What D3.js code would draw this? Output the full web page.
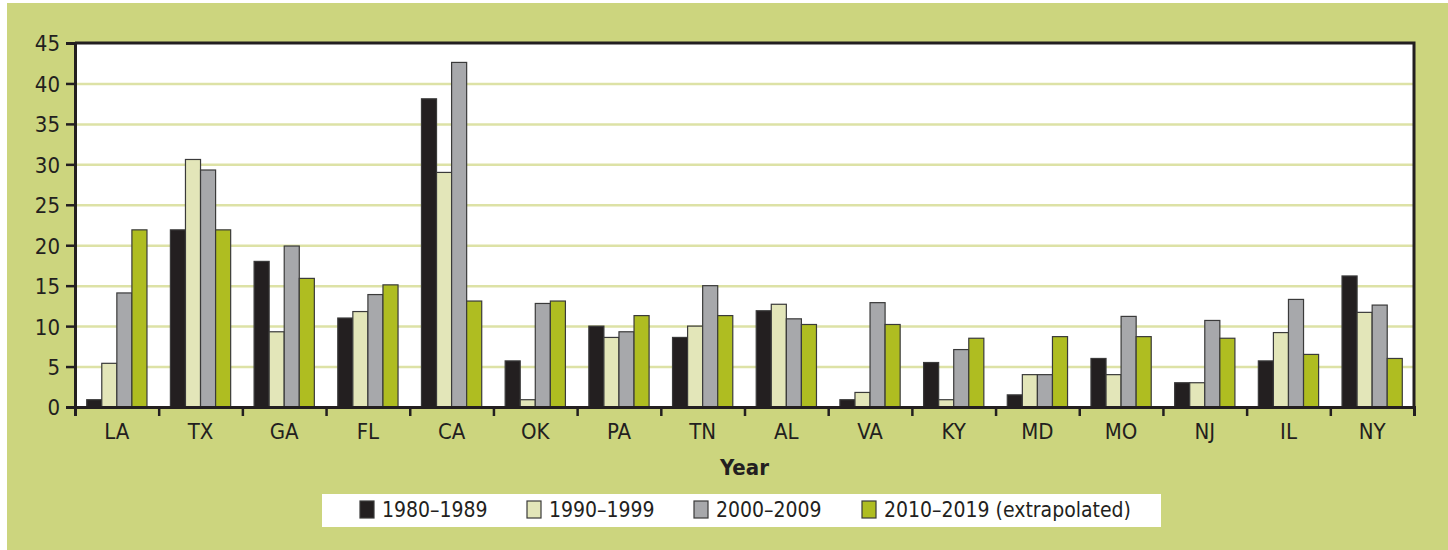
<!DOCTYPE html>
<html>
<head>
<meta charset="utf-8">
<script src="https://cdn.jsdelivr.net/npm/d3@7"></script>
<style>
  body { margin: 0; background: #fff; }
  text { font-family: "Liberation Sans Narrow", "Arial Narrow", "DejaVu Sans Condensed", sans-serif; fill: #231f20; }
</style>
</head>
<body>
<div id="canvas"></div>
<script>
const states = ["LA", "TX", "GA", "FL", "CA", "OK", "PA", "TN", "AL", "VA", "KY", "MD", "MO", "NJ", "IL", "NY"];
const series = ["1980–1989", "1990–1999", "2000–2009", "2010–2019 (extrapolated)"];
const v1980 = [0.9, 21.9, 18.0, 11.0, 38.1, 5.7, 10.0, 8.6, 11.9, 0.9, 5.5, 1.5, 6.0, 3.0, 5.7, 16.2];
const v1990 = [5.4, 30.6, 9.3, 11.8, 29.0, 0.9, 8.6, 10.0, 12.7, 1.8, 0.9, 4.0, 4.0, 3.0, 9.2, 11.7];
const v2000 = [14.1, 29.3, 19.9, 13.9, 42.6, 12.8, 9.3, 15.0, 10.9, 12.9, 7.1, 4.0, 11.2, 10.7, 13.3, 12.6];
const v2010 = [21.9, 21.9, 15.9, 15.1, 13.1, 13.1, 11.3, 11.3, 10.2, 10.2, 8.5, 8.7, 8.7, 8.5, 6.5, 6.0];
const yTicks = [0, 5, 10, 15, 20, 25, 30, 35, 40, 45];
const colors = ["#231f20", "#e3e6b9", "#a7a8ab", "#afbd21"];

const values = [v1980, v1990, v2000, v2010];
const data = states.map((s, i) => ({ state: s, vals: values.map(v => v[i]) }));

const width = 1448;
const height = 550;
const margin = { top: 43, left: 75, bottom: 143, right: 34 };
const iwidth = width - margin.left - margin.right;
const iheight = height - margin.top - margin.bottom;

const svg = d3.select("#canvas").append("svg")
    .attr("width", width)
    .attr("height", height);

// green panel
svg.append("rect")
    .attr("x", 7).attr("y", 3)
    .attr("width", width - 7).attr("height", height - 3)
    .attr("fill", "#ccd57e");

const g = svg.append("g").attr("transform", `translate(${margin.left},${margin.top})`);

const y = d3.scaleLinear().domain([0, 45]).range([iheight, 0]);

const x0 = d3.scaleBand()
    .domain(states)
    .range([0, iwidth])
    .paddingInner(0.28)
    .paddingOuter(0.14);

const x1 = d3.scaleBand()
    .domain(series)
    .range([0, x0.bandwidth()]);

const color = d3.scaleOrdinal().domain(series).range(colors);

// plot background
g.append("rect")
    .attr("width", iwidth).attr("height", iheight)
    .attr("fill", "#fff");

// gridlines
g.append("g")
    .call(d3.axisLeft(y).tickValues(yTicks.slice(1, -1)).tickSize(-iwidth).tickFormat(""))
    .call(a => a.select(".domain").remove())
    .call(a => a.selectAll("line").attr("stroke", "#dde2a6").attr("stroke-width", 2.5));

// bars
const groups = g.selectAll(".grp").data(data).enter().append("g")
    .attr("class", "grp")
    .attr("transform", d => `translate(${x0(d.state)},0)`);

groups.selectAll("rect")
    .data(d => d.vals.map((v, i) => ({ key: series[i], value: v })))
    .enter().append("rect")
    .attr("x", d => x1(d.key))
    .attr("y", d => y(d.value))
    .attr("width", x1.bandwidth())
    .attr("height", d => iheight - y(d.value))
    .attr("fill", d => color(d.key))
    .attr("stroke", "#3a3a3a")
    .attr("stroke-width", 1.2);

// frame top and right
g.append("path")
    .attr("d", `M0,0H${iwidth}V${iheight}`)
    .attr("fill", "none")
    .attr("stroke", "#231f20")
    .attr("stroke-width", 3);

// y axis
g.append("g")
    .classed("y--axis", true)
    .call(d3.axisLeft(y).tickValues(yTicks).tickSize(9).tickPadding(6))
    .call(a => a.select(".domain").attr("stroke", "#231f20").attr("stroke-width", 3))
    .call(a => a.selectAll(".tick line").attr("stroke", "#231f20").attr("stroke-width", 2.5))
    .call(a => a.selectAll("text").style("font-size", "22px").attr("dy", "0.36em"));

// x axis boundary ticks
const xb = d3.scaleLinear().domain([0, states.length]).range([0, iwidth]);
g.append("g")
    .attr("transform", `translate(0,${iheight})`)
    .call(d3.axisBottom(xb).ticks(states.length).tickSize(9).tickFormat(""))
    .call(a => a.select(".domain").attr("stroke", "#231f20").attr("stroke-width", 3))
    .call(a => a.selectAll(".tick line").attr("stroke", "#231f20").attr("stroke-width", 2.5));

// x labels
g.append("g")
    .classed("x--axis", true)
    .attr("transform", `translate(0,${iheight})`)
    .call(d3.axisBottom(x0).tickSize(0).tickPadding(16))
    .call(a => a.select(".domain").remove())
    .call(a => a.selectAll("text").style("font-size", "22px"));

g.append("text")
    .attr("x", iwidth / 2)
    .attr("y", 475 - margin.top)
    .attr("text-anchor", "middle")
    .style("font-size", "22px")
    .style("font-weight", "bold")
    .text("Year");

// legend
const legend = svg.append("g");
legend.append("rect")
    .attr("x", 322).attr("y", 494)
    .attr("width", 839).attr("height", 33)
    .attr("fill", "#fff");

const legendX = [360, 527, 694, 862];
const items = legend.selectAll(".item").data(series).enter().append("g")
    .attr("class", "item")
    .attr("transform", (d, i) => `translate(${legendX[i]},501)`);

items.append("rect")
    .attr("width", 14).attr("height", 17)
    .attr("fill", d => color(d))
    .attr("stroke", "#3a3a3a")
    .attr("stroke-width", 1.2);

items.append("text")
    .attr("x", 22)
    .attr("y", 16)
    .style("font-size", "21px")
    .text(d => d);
</script>
</body>
</html>
